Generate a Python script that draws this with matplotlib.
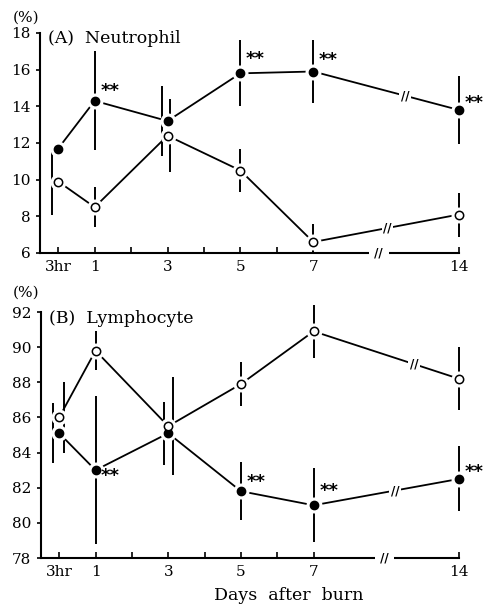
import numpy as np
import matplotlib
matplotlib.use("Agg")
import matplotlib.pyplot as plt

plt.rcParams['font.family'] = ['DejaVu Serif']

# x categories (3hr, then days after burn; axis is broken between 7 and 14)
x_labels = ['3hr', '1', '3', '5', '7', '14']
x_pos = [0, 1, 3, 5, 7, 11]          # position on the broken axis
minor_pos = [2, 4, 6]

# (A) Neutrophil, %
neu_burn = [11.7, 14.3, 13.2, 15.8, 15.9, 13.8]
neu_burn_err = [0.3, 2.7, 1.9, 1.8, 1.7, 1.85]
neu_ctrl = [9.9, 8.5, 12.4, 10.5, 6.6, 8.1]
neu_ctrl_err_lo = [1.8, 1.1, 2.0, 1.15, 0.6, 1.2]
neu_ctrl_err_hi = [1.8, 1.1, 2.0, 1.15, 1.0, 1.2]
neu_sig = [False, True, False, True, True, True]

# (B) Lymphocyte, %
lym_burn = [85.1, 83.0, 85.1, 81.8, 81.0, 82.5]
lym_burn_err = [1.7, 4.2, 1.8, 1.65, 2.1, 1.85]
lym_ctrl = [86.0, 89.8, 85.5, 87.9, 90.9, 88.2]
lym_ctrl_err = [2.0, 1.1, 2.8, 1.25, 1.5, 1.8]
lym_sig = [False, True, False, True, True, True]

# styling / placement
panels = [
    dict(title='(A)  Neutrophil', burn=neu_burn, burn_err=neu_burn_err,
         ctrl=neu_ctrl, ctrl_err=[neu_ctrl_err_lo, neu_ctrl_err_hi], sig=neu_sig,
         ylim=(6, 18), yticks=range(6, 19, 2),
         burn_off=[0.1, 0, -0.14, 0, 0, 0], ctrl_off=[-0.17, 0, 0.08, 0, 0, 0],
         star_dy=[0, 7, 0, 10, 8, 5],
         burn_brk=0.63, ctrl_brk=0.51, axis_brk=8.8,
         rect=[40 / 485, 1 - 253 / 606, 419 / 485, 220 / 606], pct_y=1 - 18 / 606),
    dict(title='(B)  Lymphocyte', burn=lym_burn, burn_err=lym_burn_err,
         ctrl=lym_ctrl, ctrl_err=lym_ctrl_err, sig=lym_sig,
         ylim=(78, 92), yticks=range(78, 93, 2),
         burn_off=[-0.16, 0, -0.12, 0, 0, 0], ctrl_off=[0.12, 0, 0.12, 0, 0, 0],
         star_dy=[0, -4, 0, 7, 10, 5],
         burn_brk=0.56, ctrl_brk=0.69, axis_brk=8.95,
         rect=[41 / 485, 1 - 558 / 606, 418 / 485, 246 / 606], pct_y=1 - 293 / 606),
]

fig = plt.figure(figsize=(4.85, 6.06), dpi=100)

for p in panels:
    ax = fig.add_axes(p['rect'])
    xs = np.array(x_pos, dtype=float)

    # connecting lines
    ax.plot(xs, p['burn'], color='black', lw=1.3, zorder=1)
    ax.plot(xs, p['ctrl'], color='black', lw=1.3, zorder=1)

    # error bars (slightly shifted where they overlap)
    ax.errorbar(xs + np.array(p['burn_off']), p['burn'], yerr=p['burn_err'],
                fmt='none', ecolor='black', elinewidth=1.4, capsize=0,
                zorder=2, clip_on=False)
    ax.errorbar(xs + np.array(p['ctrl_off']), p['ctrl'], yerr=p['ctrl_err'],
                fmt='none', ecolor='black', elinewidth=1.4, capsize=0,
                zorder=2, clip_on=False)

    # white halo so lines stop short of the markers
    for ys in (p['burn'], p['ctrl']):
        ax.plot(xs, ys, 'o', ms=10.5, color='white', mec='white', zorder=3,
                clip_on=False)
    ax.plot(xs, p['burn'], 'o', ms=6, color='black', mec='black', zorder=4,
            clip_on=False)
    ax.plot(xs, p['ctrl'], 'o', ms=6, mfc='white', mec='black', mew=1.1,
            zorder=4, clip_on=False)

    # significance stars
    for x, y, s, dy in zip(xs, p['burn'], p['sig'], p['star_dy']):
        if s:
            ax.annotate('**', (x, y), xytext=(4, dy), textcoords='offset points',
                        ha='left', va='center', fontsize=13, fontweight='bold',
                        family='DejaVu Sans', zorder=5)

    # break marks on the 7 -> 14 segments
    for ys, f in ((p['burn'], p['burn_brk']), (p['ctrl'], p['ctrl_brk'])):
        bx = xs[4] + f * (xs[5] - xs[4])
        by = ys[4] + f * (ys[5] - ys[4])
        ax.text(bx, by, '//', ha='center', va='center', fontsize=8.5,
                fontweight='bold', family='DejaVu Sans', zorder=5,
                bbox=dict(fc='white', ec='none', pad=1.0))
    ax.text(p['axis_brk'], p['ylim'][0], ' // ', ha='center', va='center',
            fontsize=8.5, fontweight='bold', family='DejaVu Sans', zorder=5,
            clip_on=False, bbox=dict(fc='white', ec='none', pad=1.0))

    ax.set_xlim(-0.5, 11)
    ax.set_ylim(*p['ylim'])
    ax.set_xticks(x_pos)
    ax.set_xticklabels(x_labels)
    ax.set_xticks(minor_pos, minor=True)
    ax.set_yticks(list(p['yticks']))
    ax.tick_params(axis='x', which='both', direction='in', length=4, width=1.2,
                   labelsize=11, pad=5)
    ax.tick_params(axis='y', direction='out', length=3, width=1.2, labelsize=11,
                   pad=4)
    for side in ('top', 'right'):
        ax.spines[side].set_visible(False)
    for side in ('left', 'bottom'):
        ax.spines[side].set_linewidth(1.5)

    ax.text(0.02, 0.975, p['title'], transform=ax.transAxes, ha='left',
            va='center', fontsize=12.5)
    fig.text(26 / 485, p['pct_y'], '(%)', ha='center', va='center', fontsize=11)

fig.text(289 / 485, 1 - 595 / 606, 'Days  after  burn', ha='center',
         va='center', fontsize=12.5)

fig.savefig('out.png', dpi=100)
